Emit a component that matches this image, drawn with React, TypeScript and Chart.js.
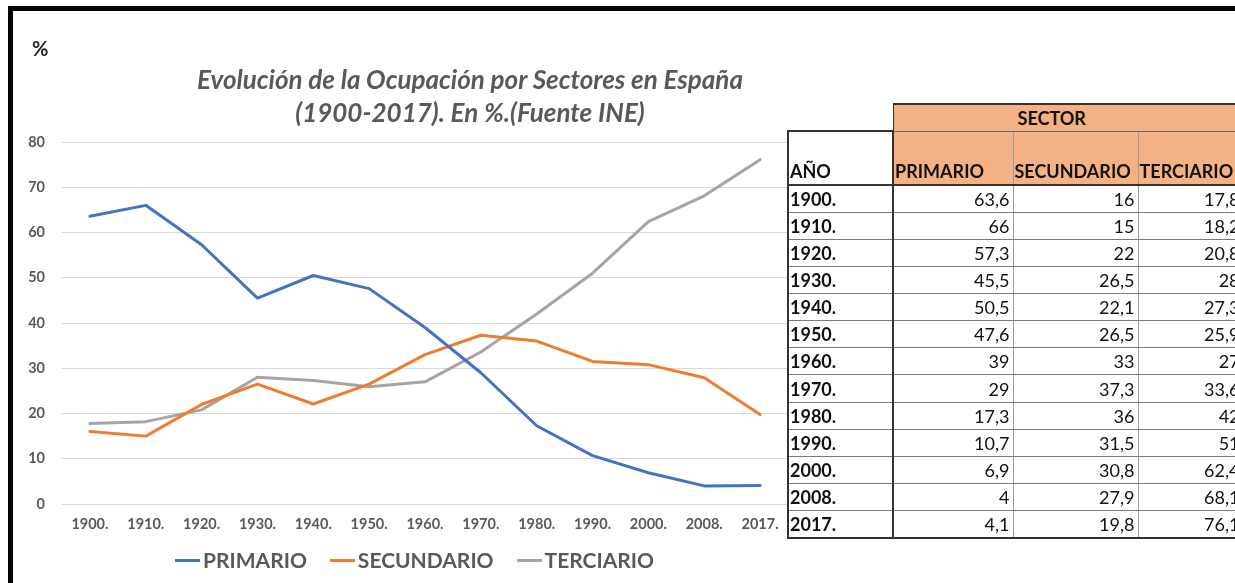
import React, { useEffect, useRef } from "react";
import { Chart, registerables } from "chart.js";

Chart.register(...registerables);

const years = ["1900.", "1910.", "1920.", "1930.", "1940.", "1950.", "1960.", "1970.", "1980.", "1990.", "2000.", "2008.", "2017."];
const primario = [63.6, 66, 57.3, 45.5, 50.5, 47.6, 39, 29, 17.3, 10.7, 6.9, 4, 4.1];
const secundario = [16, 15, 22, 26.5, 22.1, 26.5, 33, 37.3, 36, 31.5, 30.8, 27.9, 19.8];
const terciario = [17.8, 18.2, 20.8, 28, 27.3, 25.9, 27, 33.6, 42, 51, 62.4, 68.1, 76.1];
const seriesNames = ["PRIMARIO", "SECUNDARIO", "TERCIARIO"];
const seriesColors = ["#4472C4", "#ED7D31", "#A5A5A5"];
const titleLines = ["Evolución de la Ocupación por Sectores en España", "(1900-2017). En %.(Fuente INE)"];
const yAxisUnit = "%";
const tableGroupHeader = "SECTOR";
const tableYearHeader = "AÑO";

const FONT = "Lato, 'Open Sans', sans-serif";
const GRAY_TEXT = "#595959";
const ORANGE = "#F4B183";
const DARK = "#333333";
const LIGHT_BORDER = "#9a9a9a";

const fmt = (v: number) => String(v).replace(".", ",");

function ChartCanvas() {
  const ref = useRef<HTMLCanvasElement | null>(null);
  useEffect(() => {
    if (!ref.current) return;
    const series = [primario, secundario, terciario];
    const chart = new Chart(ref.current, {
      type: "line",
      data: {
        labels: years,
        datasets: series.map((d, i) => ({
          label: seriesNames[i],
          data: d,
          borderColor: seriesColors[i],
          backgroundColor: seriesColors[i],
          borderWidth: 3,
          pointRadius: 0,
          tension: 0,
          borderJoinStyle: "round" as const,
          borderCapStyle: "round" as const,
        })),
      },
      options: {
        animation: false,
        responsive: false,
        layout: { padding: { top: 131, right: 15, left: 0, bottom: 0 } },
        plugins: { legend: { display: false }, title: { display: false }, tooltip: { enabled: false } },
        scales: {
          x: {
            offset: true,
            grid: { display: false, drawTicks: false },
            border: { display: false },
            ticks: { color: GRAY_TEXT, font: { family: FONT, size: 14.5, weight: "bold" }, padding: 12, maxRotation: 0, autoSkip: false },
            afterFit: (s: any) => { s.height = 79; },
          },
          y: {
            min: 0,
            max: 80,
            grid: { color: "#D9D9D9", lineWidth: 1, drawTicks: false },
            border: { display: false },
            ticks: { stepSize: 10, color: GRAY_TEXT, font: { family: FONT, size: 14.5, weight: "bold" }, padding: 17 },
            afterFit: (s: any) => { s.width = 49; },
          },
        },
      },
    });
    return () => chart.destroy();
  }, []);
  return <canvas ref={ref} width={790} height={572} style={{ display: "block" }} />;
}

function DataTable() {
  const rowH = 27.15;
  const base: React.CSSProperties = {
    fontFamily: FONT,
    fontSize: 18,
    color: "#111",
    padding: "0 3px",
    boxSizing: "border-box",
    whiteSpace: "nowrap",
    overflow: "hidden",
    lineHeight: "20px",
  };
  const cols = [primario, secundario, terciario];
  return (
    <table
      style={{
        position: "absolute",
        left: 787,
        top: 103,
        borderCollapse: "collapse",
        tableLayout: "fixed",
        width: 455,
        background: "transparent",
      }}
    >
      <colgroup>
        <col style={{ width: 105 }} />
        <col style={{ width: 120 }} />
        <col style={{ width: 125 }} />
        <col style={{ width: 105 }} />
      </colgroup>
      <tbody>
        <tr style={{ height: 27 }}>
          <td style={{ ...base, background: "transparent" }}></td>
          <td
            colSpan={3}
            style={{
              ...base,
              background: ORANGE,
              fontWeight: "bold",
              textAlign: "center",
              paddingRight: 36,
              borderTop: `2px solid ${DARK}`,
              borderLeft: `1px solid ${DARK}`,
              borderBottom: `1px solid #666`,
            }}
          >
            {tableGroupHeader}
          </td>
        </tr>
        <tr style={{ height: 54 }}>
          <td
            style={{
              ...base,
              background: "#fff",
              fontWeight: "bold",
              verticalAlign: "bottom",
              paddingBottom: 3,
              paddingLeft: 1,
              borderLeft: `2px solid ${DARK}`,
              borderTop: `2px solid ${DARK}`,
              borderRight: `2px solid ${DARK}`,
              borderBottom: `2px solid ${DARK}`,
            }}
          >
            {tableYearHeader}
          </td>
          {seriesNames.map((n) => (
            <td
              key={n}
              style={{
                ...base,
                background: ORANGE,
                fontWeight: "bold",
                verticalAlign: "bottom",
                paddingBottom: 3,
                paddingLeft: 1,
                borderRight: `1px solid ${LIGHT_BORDER}`,
                borderBottom: `2px solid ${DARK}`,
              }}
            >
              {n}
            </td>
          ))}
        </tr>
        {years.map((y, r) => {
          const last = r === years.length - 1;
          const bb = last ? `2px solid ${DARK}` : `1px solid #7a7a7a`;
          return (
            <tr key={y} style={{ height: rowH }}>
              <td
                style={{
                  ...base,
                  background: "#fff",
                  fontWeight: "bold",
                  textAlign: "left",
                  paddingLeft: 1,
                  borderLeft: `2px solid ${DARK}`,
                  borderRight: `2px solid ${DARK}`,
                  borderBottom: bb,
                }}
              >
                {y}
              </td>
              {cols.map((c, i) => (
                <td
                  key={i}
                  style={{
                    ...base,
                    background: "#fff",
                    textAlign: "right",
                    borderRight: `1px solid ${LIGHT_BORDER}`,
                    borderBottom: bb,
                  }}
                >
                  {fmt(c[r])}
                </td>
              ))}
            </tr>
          );
        })}
      </tbody>
    </table>
  );
}

export default function App() {
  return (
    <div
      style={{
        position: "fixed",
        left: 0,
        top: 0,
        width: 1235,
        height: 583,
        overflow: "hidden",
        background: "#fff",
        fontFamily: FONT,
      }}
    >
      <div
        style={{
          position: "absolute",
          left: 8,
          top: 6,
          width: 1300,
          height: 700,
          borderTop: "5px solid #000",
          borderLeft: "5px solid #000",
          boxSizing: "border-box",
        }}
      />
      <div style={{ position: "absolute", left: 13, top: 11 }}>
        <ChartCanvas />
      </div>
      <div
        style={{
          position: "absolute",
          left: 32,
          top: 36,
          fontSize: 20,
          fontWeight: "bold",
          color: "#262626",
          lineHeight: "24px",
        }}
      >
        {yAxisUnit}
      </div>
      <div
        style={{
          position: "absolute",
          left: 120,
          width: 700,
          top: 63,
          textAlign: "center",
          fontSize: 26,
          fontWeight: "bold",
          fontStyle: "italic",
          color: GRAY_TEXT,
          lineHeight: "33px",
          whiteSpace: "nowrap",
        }}
      >
        {titleLines.map((t) => (
          <div key={t}>{t}</div>
        ))}
      </div>
      <div
        style={{
          position: "absolute",
          left: 175,
          top: 546,
          display: "flex",
          alignItems: "center",
          fontSize: 21,
          fontWeight: "bold",
          color: GRAY_TEXT,
          lineHeight: "28px",
          whiteSpace: "nowrap",
        }}
      >
        {seriesNames.map((n, i) => (
          <div key={n} style={{ display: "flex", alignItems: "center", marginRight: 23 }}>
            <div style={{ width: 25, height: 3, background: seriesColors[i], marginRight: 3 }} />
            <span>{n}</span>
          </div>
        ))}
      </div>
      <DataTable />
    </div>
  );
}
